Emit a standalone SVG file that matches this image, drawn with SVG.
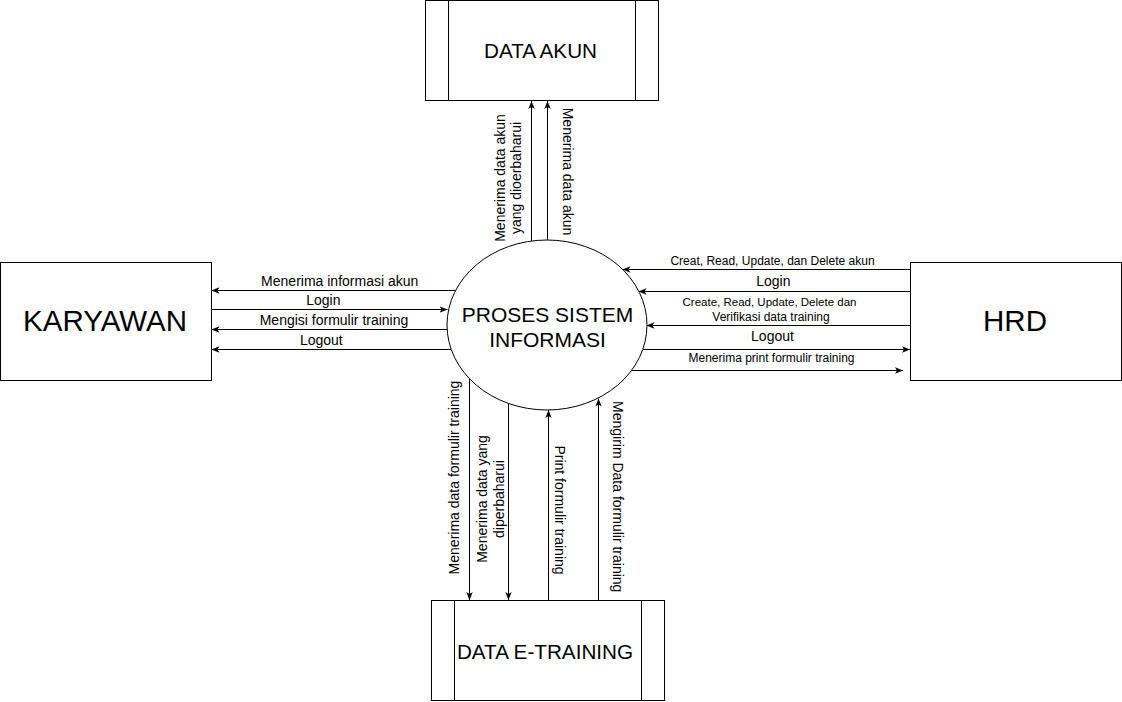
<svg xmlns="http://www.w3.org/2000/svg" width="1122" height="702" viewBox="0 0 1122 702">
<style>
.box{fill:#fff;stroke:#000;stroke-width:1}
.ln{fill:none;stroke:#000;stroke-width:1}
.conn{fill:none;stroke:#000;stroke-width:1;marker-end:url(#arr)}
text{font-family:"Liberation Sans",Arial,Helvetica,sans-serif;fill:#000}
.lbl{font-size:14px;text-anchor:middle}
.sm{font-size:12px;text-anchor:middle}
.big{font-size:29.5px;text-anchor:middle}
.mid{font-size:20.7px;text-anchor:middle}
.proc{font-size:21px;text-anchor:middle}
</style>
<defs>
<marker id="arr" viewBox="0 0 10 10" markerWidth="8" markerHeight="8" refX="10" refY="5" orient="auto" markerUnits="userSpaceOnUse">
<path d="M0,1 L10,5 L0,9 L2.5,5 z" fill="#000"/>
</marker>
</defs>
<rect width="1122" height="702" fill="#fff"/>

<g id="connectors">
<path class="conn" d="M531.5,241 L531.5,101"/>
<path class="conn" d="M547.5,240 L547.5,101"/>
<path class="conn" d="M456,290.5 L211.5,290.5"/>
<path class="conn" d="M211,309.5 L447.5,309.5"/>
<path class="conn" d="M447,329.5 L211.5,329.5"/>
<path class="conn" d="M451,349.5 L211.5,349.5"/>
<path class="conn" d="M910,269.5 L622.5,269.5"/>
<path class="conn" d="M910,291.5 L638.5,291.5"/>
<path class="conn" d="M910,325.5 L646.5,325.5"/>
<path class="conn" d="M643,349.5 L910,349.5"/>
<path class="conn" d="M632,370.5 L903,370.5"/>
<path class="conn" d="M469.5,378 L469.5,600"/>
<path class="conn" d="M508.5,403 L508.5,600"/>
<path class="conn" d="M548.5,600 L548.5,410"/>
<path class="conn" d="M598.5,600 L598.5,398.5"/>
<text class="lbl" transform="translate(504.5,178) rotate(-90)">Menerima data akun</text>
<text class="lbl" transform="translate(521,178) rotate(-90)">yang dioerbaharui</text>
<text class="lbl" transform="translate(562.5,171.5) rotate(90)">Menerima data akun</text>
<text class="lbl" x="339.7" y="286">Menerima informasi akun</text>
<text class="lbl" x="323.3" y="304.5">Login</text>
<text class="lbl" x="334" y="324.5">Mengisi formulir training</text>
<text class="lbl" x="321.3" y="344.5">Logout</text>
<text class="sm" x="772.5" y="265">Creat, Read, Update, dan Delete akun</text>
<text class="lbl" x="773.3" y="285.5">Login</text>
<text class="sm" x="769.5" y="306" style="font-size:11.5px">Create, Read, Update, Delete dan</text>
<text class="sm" x="771" y="320.5">Verifikasi data training</text>
<text class="lbl" x="772.5" y="340.5">Logout</text>
<text class="sm" x="771.5" y="362">Menerima print formulir training</text>
<text class="lbl" transform="translate(459,477.5) rotate(-90)">Menerima data formulir training</text>
<text class="lbl" transform="translate(487,499) rotate(-90)">Menerima data yang</text>
<text class="lbl" transform="translate(503.5,499) rotate(-90)">diperbaharui</text>
<text class="lbl" transform="translate(555,510) rotate(90)">Print formulir training</text>
<text class="lbl" transform="translate(612.5,496.7) rotate(90)">Mengirim Data formulir training</text>
</g>

<g id="data-akun">
<rect class="box" x="425.5" y="0.5" width="233" height="100"/>
<path class="ln" d="M448.5,0.5 L448.5,100.5 M635.5,0.5 L635.5,100.5"/>
<text class="mid" x="540.5" y="58">DATA AKUN</text>
</g>

<g id="proses">
<ellipse class="box" cx="547" cy="325" rx="100" ry="85"/>
<text class="proc" x="547.5" y="321.5">PROSES SISTEM</text>
<text class="proc" x="547.5" y="346.5">INFORMASI</text>
</g>

<g id="karyawan">
<rect class="box" x="0.5" y="262.5" width="211" height="118"/>
<text class="big" x="105" y="330.5">KARYAWAN</text>
</g>

<g id="hrd">
<rect class="box" x="910.5" y="262.5" width="211" height="118"/>
<text class="big" x="1015" y="330.5">HRD</text>
</g>

<g id="data-etraining">
<rect class="box" x="431.5" y="600.5" width="233" height="100"/>
<path class="ln" d="M454.5,600.5 L454.5,700.5 M641.5,600.5 L641.5,700.5"/>
<text class="mid" x="545" y="658.5">DATA E-TRAINING</text>
</g>
</svg>
